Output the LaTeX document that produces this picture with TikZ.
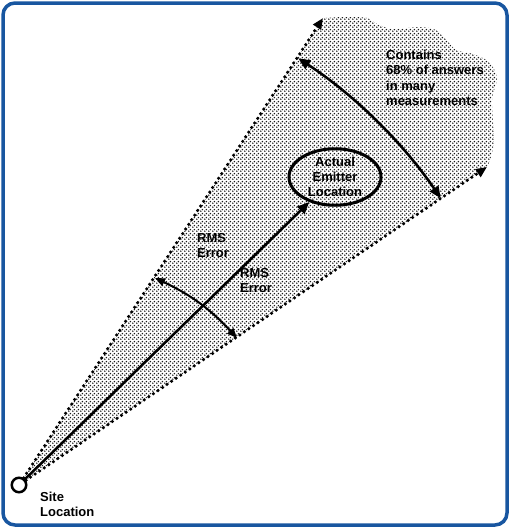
\documentclass[tikz,border=0pt]{standalone}
\usepackage{fontspec}
\setmainfont{Liberation Sans}
\usetikzlibrary{arrows.meta,patterns.meta,calc,shapes.geometric}
\definecolor{frameblue}{RGB}{24,86,160}
\tikzdeclarepattern{name=stipple,type=uncolored,bounding box={(0pt,0pt) and (4pt,4pt)},tile size={(4pt,4pt)},code={\fill (1pt,1pt) circle (0.95pt); \fill (3pt,3pt) circle (0.95pt);}}
\begin{document}
\begin{tikzpicture}[x=1pt,y=-1pt,
  lbl/.style={font=\bfseries\fontsize{13}{15.2}\selectfont, align=left, inner sep=0pt},
  dotline/.style={line width=3.5pt, line cap=round, dash pattern=on 0pt off 5.5pt, -{Triangle[length=11pt,width=9pt]}},
  solidarrow/.style={line width=2.5pt, -{Triangle[length=12pt,width=10pt]}},
  twoarrow/.style={line width=2.5pt, {Triangle[length=12pt,width=10pt]}-{Triangle[length=12pt,width=10pt]}},
  smallarrow/.style={line width=2pt, {Triangle[length=10pt,width=8pt]}-{Triangle[length=10pt,width=8pt]}}]
\useasboundingbox (0,0) rectangle (510,528);
\draw[frameblue, line width=3.5pt, rounded corners=12pt] (3,3) rectangle (507,525);
% shaded region
\fill[pattern=stipple, pattern color=black!90] (19,485) -- plot[smooth, tension=0.5] coordinates {(323,18) (345,17) (367,18) (377,24) (393,29) (420,27) (436,30) (446,39) (456,50) (473,54) (489,62) (497,78) (492,100) (494,140) (490,160) (487,167)} -- cycle;
% site
\node[circle, draw, line width=2.5pt, fill=white, minimum size=14.5pt, inner sep=0pt] (site) at (19,485) {};
\coordinate (uptip) at (323,18);
\coordinate (lowtip) at (487,167);
\draw[dotline] (site) -- (uptip);
\draw[dotline] (site) -- (lowtip);
% emitter
\node[ellipse, draw, line width=3pt, minimum width=92pt, minimum height=56pt, lbl, align=center] (emitter) at (335,177) {Actual\\Emitter\\Location};
\draw[solidarrow] (site) -- (emitter);
% big arc
\draw[twoarrow] ($(site.center)+(-56.8:510)$) arc[start angle=-56.8, end angle=-34.2, radius=510];
% small arc
\coordinate (sa) at (155,278);
\coordinate (sb) at (237,338);
\draw[smallarrow] (sa) to[bend left=11] (sb);
% labels
\node[lbl, anchor=north west] (contains) at (386,50) {Contains\\68\% of answers\\in many\\measurements};
\node[lbl, anchor=north west] (rms1) at (197,233) {RMS\\Error};
\node[lbl, anchor=north west] (rms2) at (240,268) {RMS\\Error};
\node[lbl, anchor=north west] (sitelbl) at (40,492) {Site\\Location};
\end{tikzpicture}
\end{document}
